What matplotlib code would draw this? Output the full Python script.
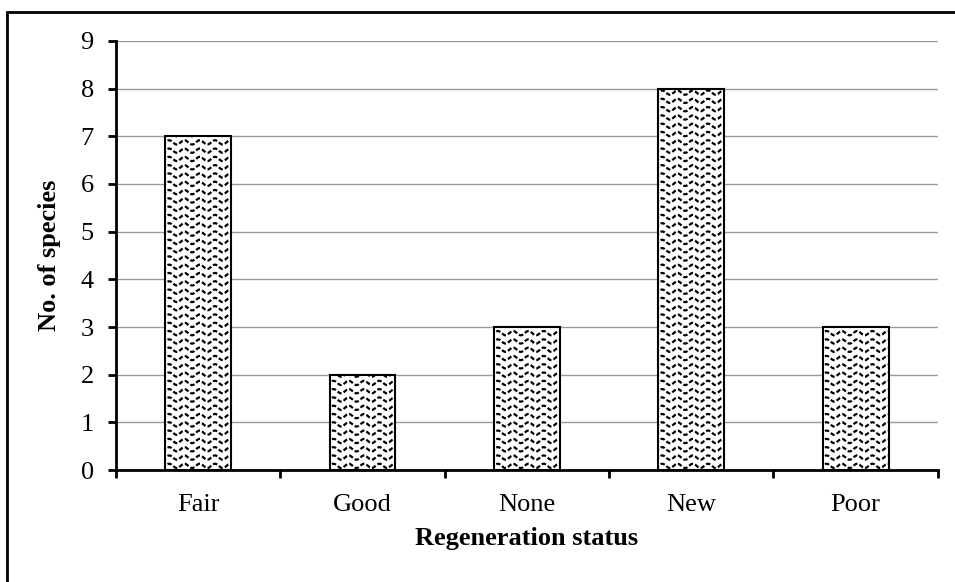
import numpy as np
import matplotlib.pyplot as plt
from matplotlib.patches import Rectangle

# Species count by regeneration status
status = ['Fair', 'Good', 'None', 'New', 'Poor']
species = [7, 2, 3, 8, 3]

plt.rcParams['font.family'] = ['Liberation Serif', 'DejaVu Serif']

fig = plt.figure(figsize=(9.55, 5.82), dpi=100)
ax = fig.add_axes([0.1215, 0.1924, 0.8605, 0.7372])

x = np.arange(len(status))
bars = ax.bar(x, species, width=0.4, color='white', edgecolor='black',
              linewidth=1.5, zorder=3)

# wavy fill inside each bar
period = 0.093
amp = 0.045
gap = 0.174
for rect in bars:
    x0, w, h = rect.get_x(), rect.get_width(), rect.get_height()
    xs = np.linspace(x0 - 0.02, x0 + w + 0.02, 200)
    for yc in np.arange(gap / 2, h + gap, gap):
        ys = yc + amp * np.sin(2 * np.pi * (xs - x0) / period)
        line, = ax.plot(xs, ys, color='black', lw=1.6,
                        linestyle=(0, (2.0, 1.0)), zorder=4)
        line.set_clip_path(rect)

ax.set_xlim(-0.5, 4.5)
ax.set_ylim(0, 9)
ax.set_yticks(range(0, 10))
ax.yaxis.grid(True, color='#9a9a9a', linewidth=1, zorder=0)
ax.set_axisbelow(True)

# boundary ticks between categories, names centred under bars
ax.set_xticks(np.arange(-0.5, 5.0, 1.0))
ax.set_xticklabels([])
ax.set_xticks(x, minor=True)
ax.set_xticklabels(status, minor=True)
ax.tick_params(axis='x', which='major', direction='out', length=6, width=2)
ax.tick_params(axis='x', which='minor', length=0, pad=17, labelsize=19)
ax.tick_params(axis='y', direction='out', length=6, width=2, pad=10,
               labelsize=19)

for side in ['top', 'right']:
    ax.spines[side].set_visible(False)
for side in ['left', 'bottom']:
    ax.spines[side].set_linewidth(2)

ax.set_xlabel('Regeneration status', fontsize=19, fontweight='bold', labelpad=8)
ax.set_ylabel('No. of species', fontsize=19, fontweight='bold', labelpad=14)

# outer chart frame
fig.patches.append(Rectangle((7 / 955, -0.1), 1.2, 1 - 12 / 582 + 0.1,
                             transform=fig.transFigure, fill=False,
                             edgecolor='black', linewidth=2))

fig.savefig('out.png', dpi=100)
